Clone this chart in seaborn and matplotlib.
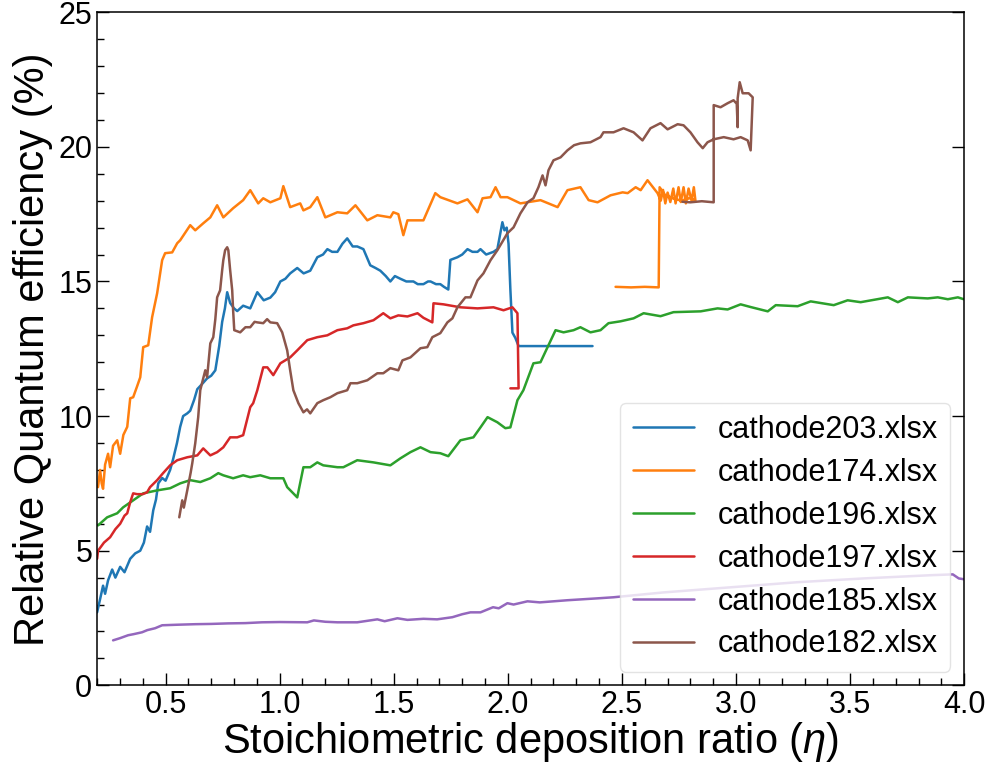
import matplotlib
matplotlib.use("Agg")
import matplotlib.pyplot as plt
import seaborn as sns
import pandas as pd
from matplotlib.ticker import MultipleLocator, FormatStrFormatter

# ---------------- data ----------------
cathode203 = [(0.200, 2.71), (0.213, 3.2), (0.226, 3.7), (0.235, 3.4), (0.248, 3.9), (0.266, 4.3),
              (0.280, 4.0), (0.301, 4.4), (0.320, 4.2), (0.345, 4.7), (0.367, 4.9), (0.389, 5.0),
              (0.405, 5.3), (0.419, 5.9), (0.432, 5.7), (0.446, 6.5), (0.458, 6.9), (0.468, 7.5),
              (0.485, 7.7), (0.500, 7.6), (0.520, 8.0), (0.533, 8.4), (0.550, 9.0), (0.564, 9.6),
              (0.577, 10.0), (0.595, 10.1), (0.608, 10.2), (0.625, 10.6), (0.639, 11.0), (0.661, 11.2),
              (0.682, 11.4), (0.700, 11.5), (0.718, 11.7), (0.735, 12.6), (0.748, 13.5), (0.760, 14.0),
              (0.770, 14.6), (0.783, 14.2), (0.800, 14.0), (0.814, 13.9), (0.840, 14.1), (0.871, 14.0),
              (0.902, 14.6), (0.930, 14.3), (0.959, 14.4), (0.980, 14.6), (1.003, 15.0), (1.025, 15.1),
              (1.046, 15.3), (1.077, 15.5), (1.105, 15.3), (1.134, 15.4), (1.165, 15.9), (1.190, 16.0),
              (1.209, 16.2), (1.230, 16.1), (1.253, 16.1), (1.275, 16.4), (1.296, 16.6), (1.320, 16.3),
              (1.340, 16.3), (1.367, 16.2), (1.397, 15.6), (1.420, 15.5), (1.441, 15.4), (1.465, 15.2),
              (1.485, 15.0), (1.505, 15.2), (1.529, 15.1), (1.555, 15.0), (1.586, 15.0), (1.605, 14.9),
              (1.630, 14.9), (1.650, 15.0), (1.661, 15.0), (1.685, 14.9), (1.704, 14.9), (1.720, 14.8),
              (1.739, 14.7), (1.748, 15.8), (1.779, 15.9), (1.800, 16.0), (1.823, 16.2), (1.845, 16.1),
              (1.867, 16.1), (1.880, 16.2), (1.905, 16.0), (1.937, 16.1), (1.954, 16.2), (1.976, 17.2),
              (1.985, 16.9), (1.995, 17.0), (2.003, 16.4), (2.011, 14.7), (2.020, 13.1), (2.033, 12.9),
              (2.047, 12.6), (2.080, 12.6), (2.110, 12.6), (2.143, 12.6), (2.180, 12.6), (2.231, 12.6),
              (2.280, 12.6), (2.330, 12.6), (2.371, 12.6)]

cathode174 = [(0.204, 7.36), (0.213, 8.0), (0.220, 7.5), (0.226, 7.3), (0.235, 8.2), (0.248, 8.6),
              (0.257, 8.1), (0.270, 8.9), (0.288, 9.1), (0.301, 8.6), (0.315, 9.3), (0.332, 9.6),
              (0.345, 10.66), (0.358, 10.7), (0.375, 11.1), (0.389, 11.44), (0.402, 12.56), (0.424, 12.63),
              (0.441, 13.67), (0.463, 14.56), (0.485, 15.79), (0.498, 16.05), (0.529, 16.08), (0.551, 16.42),
              (0.564, 16.53), (0.608, 17.09), (0.630, 16.90), (0.665, 17.16), (0.696, 17.38), (0.726, 17.83),
              (0.753, 17.38), (0.796, 17.72), (0.840, 18.02), (0.871, 18.39), (0.906, 17.90), (0.928, 18.09),
              (0.959, 17.94), (1.003, 18.09), (1.016, 18.54), (1.046, 17.76), (1.090, 17.90), (1.104, 17.64),
              (1.134, 17.76), (1.165, 18.13), (1.200, 17.38), (1.253, 17.57), (1.296, 17.53), (1.332, 17.83),
              (1.384, 17.27), (1.428, 17.46), (1.485, 17.38), (1.498, 17.57), (1.520, 17.5), (1.542, 16.72),
              (1.560, 17.27), (1.630, 17.27), (1.682, 18.28), (1.704, 18.13), (1.779, 17.90), (1.823, 18.05),
              (1.867, 17.57), (1.889, 18.09), (1.924, 18.13), (1.946, 18.50), (1.968, 18.13), (1.998, 18.13),
              (2.055, 17.90), (2.143, 18.02), (2.218, 17.76), (2.261, 18.39), (2.318, 18.50), (2.354, 18.02),
              (2.393, 17.94), (2.450, 18.20), (2.503, 18.31), (2.525, 18.28), (2.560, 18.50), (2.582, 18.39),
              (2.612, 18.76), (2.656, 18.28), (2.670, 18.0), (2.680, 18.4), (2.690, 17.9), (2.700, 18.3),
              (2.712, 17.95), (2.725, 18.45), (2.735, 17.9), (2.748, 18.5), (2.758, 17.95), (2.770, 18.5),
              (2.780, 17.9), (2.792, 18.45), (2.805, 18.0), (2.815, 18.5), (2.822, 18.0), (2.800, 18.1),
              (2.760, 18.0), (2.720, 18.1), (2.690, 18.2), (2.665, 18.5), (2.661, 14.78), (2.600, 14.80),
              (2.540, 14.78), (2.472, 14.80)]

cathode196 = [(0.204, 5.94), (0.244, 6.24), (0.288, 6.39), (0.314, 6.61), (0.358, 6.87), (0.402, 7.13),
              (0.463, 7.24), (0.520, 7.32), (0.564, 7.50), (0.608, 7.62), (0.652, 7.55), (0.696, 7.69),
              (0.731, 7.88), (0.753, 7.80), (0.796, 7.69), (0.840, 7.80), (0.871, 7.73), (0.915, 7.80),
              (0.959, 7.69), (1.016, 7.69), (1.033, 7.36), (1.077, 6.98), (1.104, 8.10), (1.134, 8.10),
              (1.165, 8.28), (1.191, 8.17), (1.253, 8.10), (1.279, 8.10), (1.340, 8.36), (1.411, 8.28),
              (1.485, 8.17), (1.529, 8.43), (1.573, 8.66), (1.617, 8.84), (1.661, 8.66), (1.704, 8.62),
              (1.739, 8.51), (1.792, 9.10), (1.849, 9.21), (1.880, 9.58), (1.911, 9.96), (1.954, 9.77),
              (1.989, 9.55), (2.011, 9.58), (2.042, 10.59), (2.068, 10.96), (2.112, 11.96), (2.143, 12.00),
              (2.174, 12.56), (2.209, 13.19), (2.244, 13.11), (2.288, 13.19), (2.318, 13.30), (2.362, 13.11),
              (2.406, 13.19), (2.441, 13.45), (2.494, 13.52), (2.551, 13.63), (2.595, 13.82), (2.669, 13.71),
              (2.726, 13.86), (2.845, 13.89), (2.919, 14.00), (2.963, 13.96), (3.020, 14.15), (3.064, 14.05),
              (3.139, 13.89), (3.174, 14.12), (3.270, 14.08), (3.327, 14.26), (3.428, 14.12), (3.489, 14.30),
              (3.546, 14.23), (3.665, 14.41), (3.709, 14.23), (3.753, 14.41), (3.840, 14.37), (3.884, 14.41),
              (3.928, 14.34), (3.972, 14.41), (3.998, 14.34)]

cathode197 = [(0.200, 4.7), (0.204, 5.0), (0.230, 5.3), (0.257, 5.5), (0.280, 5.8), (0.301, 6.0),
              (0.320, 6.3), (0.332, 6.39), (0.345, 6.8), (0.358, 7.13), (0.375, 7.1), (0.400, 7.1),
              (0.419, 7.17), (0.432, 7.36), (0.463, 7.62), (0.489, 7.88), (0.520, 8.17), (0.551, 8.36),
              (0.595, 8.47), (0.639, 8.54), (0.665, 8.80), (0.696, 8.54), (0.726, 8.66), (0.753, 8.84),
              (0.783, 9.21), (0.814, 9.21), (0.840, 9.29), (0.871, 10.33), (0.884, 10.48), (0.902, 10.96),
              (0.928, 11.81), (0.946, 11.81), (0.972, 11.52), (1.003, 11.96), (1.046, 12.18), (1.077, 12.44),
              (1.121, 12.82), (1.165, 12.93), (1.209, 13.00), (1.253, 13.19), (1.296, 13.26), (1.323, 13.37),
              (1.367, 13.45), (1.411, 13.56), (1.454, 13.82), (1.485, 13.63), (1.520, 13.74), (1.560, 13.70),
              (1.604, 13.82), (1.630, 13.65), (1.669, 13.48), (1.674, 14.19), (1.718, 14.15), (1.792, 14.04),
              (1.867, 14.00), (1.937, 14.04), (1.981, 13.93), (2.020, 14.04), (2.042, 13.82), (2.047, 11.03),
              (2.011, 11.03)]

cathode185 = [(0.270, 1.67), (0.300, 1.75), (0.336, 1.86), (0.360, 1.90), (0.397, 1.97), (0.420, 2.05),
              (0.454, 2.12), (0.485, 2.23), (0.551, 2.25), (0.630, 2.27), (0.700, 2.28), (0.775, 2.30),
              (0.850, 2.31), (0.922, 2.34), (1.000, 2.35), (1.121, 2.34), (1.150, 2.41), (1.200, 2.36),
              (1.253, 2.34), (1.340, 2.34), (1.428, 2.45), (1.460, 2.38), (1.516, 2.49), (1.560, 2.43),
              (1.630, 2.47), (1.690, 2.45), (1.757, 2.53), (1.800, 2.64), (1.836, 2.71), (1.880, 2.71),
              (1.935, 2.90), (1.960, 2.86), (1.998, 3.05), (2.025, 3.00), (2.086, 3.12), (2.140, 3.08),
              (2.261, 3.16), (2.393, 3.23), (2.463, 3.27), (2.682, 3.45), (2.976, 3.64), (3.270, 3.83),
              (3.560, 3.97), (3.854, 4.09), (3.950, 4.12), (3.976, 3.97), (3.998, 3.94)]

cathode182 = [(0.560, 6.24), (0.573, 6.87), (0.580, 6.6), (0.595, 7.24), (0.610, 7.9), (0.617, 8.25),
              (0.630, 8.99), (0.643, 9.96), (0.652, 10.96), (0.665, 11.4), (0.674, 11.70), (0.682, 11.44),
              (0.696, 12.70), (0.709, 12.93), (0.718, 13.6), (0.726, 14.41), (0.739, 14.67), (0.748, 15.42),
              (0.753, 15.79), (0.761, 16.16), (0.770, 16.27), (0.775, 16.16), (0.783, 15.42), (0.792, 14.67),
              (0.796, 13.93), (0.801, 13.19), (0.827, 13.11), (0.850, 13.3), (0.871, 13.30), (0.890, 13.5),
              (0.902, 13.48), (0.928, 13.45), (0.945, 13.6), (0.959, 13.48), (0.989, 13.45), (1.011, 13.11),
              (1.033, 12.44), (1.046, 11.70), (1.060, 10.96), (1.082, 10.48), (1.104, 10.14), (1.120, 10.25),
              (1.134, 10.10), (1.165, 10.48), (1.191, 10.59), (1.222, 10.70), (1.253, 10.85), (1.296, 10.96),
              (1.310, 11.22), (1.340, 11.22), (1.384, 11.33), (1.428, 11.59), (1.454, 11.59), (1.485, 11.78),
              (1.520, 11.70), (1.538, 12.07), (1.573, 12.18), (1.617, 12.52), (1.647, 12.56), (1.669, 12.93),
              (1.704, 13.08), (1.735, 13.48), (1.757, 13.63), (1.779, 14.04), (1.814, 14.41), (1.836, 14.41),
              (1.867, 15.04), (1.893, 15.30), (1.924, 15.79), (1.954, 16.16), (1.998, 16.79), (2.025, 17.01),
              (2.055, 17.53), (2.086, 17.94), (2.112, 18.09), (2.134, 18.50), (2.152, 18.94), (2.165, 18.57),
              (2.178, 19.13), (2.200, 19.50), (2.231, 19.61), (2.261, 19.87), (2.290, 20.06), (2.318, 20.13),
              (2.362, 20.17), (2.406, 20.36), (2.419, 20.54), (2.463, 20.54), (2.507, 20.69), (2.551, 20.54),
              (2.590, 20.24), (2.625, 20.69), (2.669, 20.88), (2.700, 20.65), (2.744, 20.84), (2.770, 20.80),
              (2.800, 20.54), (2.831, 20.17), (2.854, 19.95), (2.875, 20.17), (2.902, 20.28), (2.946, 20.36),
              (2.989, 20.28), (3.020, 20.36), (3.051, 20.24), (3.064, 19.87), (3.073, 21.84), (3.055, 21.99),
              (3.029, 21.99), (3.016, 22.40), (3.007, 21.80), (3.007, 20.73), (3.003, 21.60), (2.989, 21.73),
              (2.963, 21.62), (2.932, 21.47), (2.902, 21.55), (2.902, 17.94), (2.850, 17.98), (2.800, 17.94),
              (2.765, 17.96)]

series_names = ["cathode203.xlsx", "cathode174.xlsx", "cathode196.xlsx",
                "cathode197.xlsx", "cathode185.xlsx", "cathode182.xlsx"]
series_data = [cathode203, cathode174, cathode196, cathode197, cathode185, cathode182]

x_label = r"Stoichiometric deposition ratio ($\it{\eta}$)"
y_label = "Relative Quantum efficiency (%)"

# ---------------- build table ----------------
rows = []
for name, pts in zip(series_names, series_data):
    for i, (xv, yv) in enumerate(pts):
        rows.append({"eta": xv, "qe": yv, "file": name, "order": i})
df = pd.DataFrame(rows)

# ---------------- plot ----------------
sns.set_theme(style="ticks")
plt.rcParams["font.family"] = ["Liberation Sans", "DejaVu Sans"]
plt.rcParams["mathtext.fontset"] = "custom"
plt.rcParams["mathtext.it"] = "Liberation Sans:italic"
plt.rcParams["mathtext.rm"] = "Liberation Sans"
plt.rcParams["text.color"] = "black"
plt.rcParams["axes.labelcolor"] = "black"
plt.rcParams["xtick.color"] = "black"
plt.rcParams["ytick.color"] = "black"

fig = plt.figure(figsize=(9.91, 7.64), dpi=100)
ax = fig.add_axes([0.098, 0.103, 0.875, 0.881])

sns.lineplot(data=df, x="eta", y="qe", hue="file", hue_order=series_names,
             palette="tab10", sort=False, estimator=None, units="file",
             linewidth=1.8, ax=ax)

ax.set_xlim(0.2, 4.0)
ax.set_ylim(0, 25)
ax.xaxis.set_major_locator(MultipleLocator(0.5))
ax.xaxis.set_minor_locator(MultipleLocator(0.1))
ax.xaxis.set_major_formatter(FormatStrFormatter("%.1f"))
ax.yaxis.set_major_locator(MultipleLocator(5))
ax.yaxis.set_minor_locator(MultipleLocator(1))

ax.tick_params(which="both", direction="in", colors="black", labelcolor="black",
               labelsize=22, width=1.0)
ax.tick_params(which="major", length=8.5, right=True)
ax.tick_params(which="minor", length=5, right=False)
for s in ax.spines.values():
    s.set_linewidth(1.1)
    s.set_color("black")

ax.set_xlabel(x_label, fontsize=30, labelpad=0, color="black")
ax.set_ylabel(y_label, fontsize=30, labelpad=4, color="black")

handles, labels = ax.get_legend_handles_labels()
leg = ax.legend(handles, labels, loc="lower right", fontsize=22, frameon=True,
                handlelength=2.0, labelspacing=0.42, borderaxespad=0.45)
leg.get_frame().set_edgecolor("#dddddd")
for h in leg.get_lines():
    h.set_linewidth(1.8)
for t in leg.get_texts():
    t.set_color("black")

fig.savefig("out.png", dpi=100)
